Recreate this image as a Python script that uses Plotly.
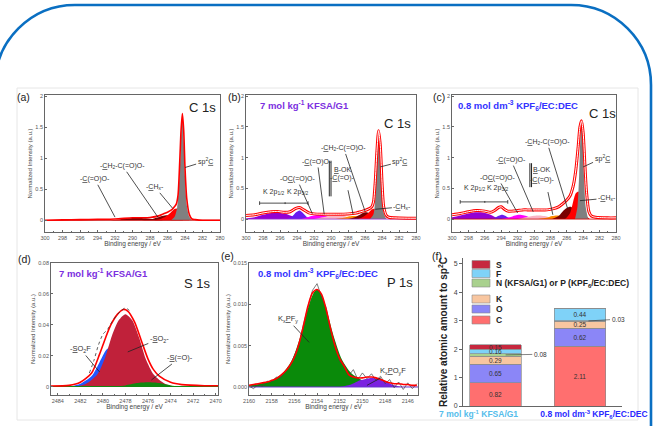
import plotly.graph_objects as go

W, H = 656, 426
FONT = "Liberation Sans, Arial, sans-serif"

# ======================= DATA =======================
# (a) C 1s
a_coo_x = [292.5, 291.5, 290.5, 289.5, 288.5, 287.5, 286.5]
a_coo_y = [0.0, 0.012, 0.03, 0.035, 0.03, 0.015, 0.0]
a_ch2_x = [289.0, 288.0, 287.3, 286.6, 286.0, 285.4, 284.8, 284.2]
a_ch2_y = [0.0, 0.01, 0.04, 0.07, 0.08, 0.06, 0.03, 0.0]
a_chx_x = [287.5, 286.8, 286.2, 285.6, 285.2, 285.0, 284.8, 284.5, 284.2, 283.9, 283.5]
a_chx_y = [0.0, 0.02, 0.06, 0.13, 0.18, 0.19, 0.18, 0.14, 0.08, 0.03, 0.0]
a_sp2_x = [285.6, 285.2, 284.9, 284.6, 284.45, 284.3, 284.15, 284.0, 283.8, 283.5, 283.2]
a_sp2_y = [0.0, 0.05, 0.2, 0.8, 1.3, 1.68, 1.3, 0.7, 0.25, 0.05, 0.0]
a_env_x = [300, 298, 296, 294, 292, 290, 289, 288, 287, 286.5, 286, 285.5, 285.2, 285, 284.8,
           284.6, 284.45, 284.3, 284.15, 284, 283.8, 283.5, 283.2, 282.8, 282, 280]
a_env_y = [0.0, 0.005, 0.01, 0.015, 0.02, 0.04, 0.04, 0.045, 0.07, 0.1, 0.13, 0.17, 0.22, 0.26, 0.4,
           0.95, 1.45, 1.72, 1.45, 0.85, 0.35, 0.09, 0.02, 0.01, 0.0, 0.0]

# (b) C 1s, 7 mol kg-1 KFSA/G1
b_k12_x = [300, 299, 298, 297, 296.4, 295.5, 294.8, 294, 293.5]
b_k12_y = [0.01, 0.03, 0.07, 0.1, 0.105, 0.09, 0.06, 0.02, 0.0]
b_k32_x = [295.2, 294.6, 294.1, 293.7, 293.3, 292.8, 292.3]
b_k32_y = [0.0, 0.04, 0.11, 0.14, 0.1, 0.03, 0.0]
b_oco_x = [293.5, 292.8, 292.0, 291.3, 290.6, 289.8, 289.0]
b_oco_y = [0.0, 0.03, 0.06, 0.07, 0.05, 0.02, 0.0]
b_coo_x = [292.0, 291.0, 290.0, 289.3, 288.5, 287.7, 287.0]
b_coo_y = [0.0, 0.03, 0.055, 0.06, 0.05, 0.02, 0.0]
b_co_x = [289.5, 288.5, 287.8, 287.2, 286.6, 286.0, 285.5]
b_co_y = [0.0, 0.02, 0.045, 0.05, 0.04, 0.015, 0.0]
b_ch2_x = [288.0, 287.2, 286.5, 286.0, 285.5, 285.0, 284.5]
b_ch2_y = [0.0, 0.03, 0.08, 0.11, 0.1, 0.04, 0.0]
b_chx_x = [286.8, 286.2, 285.6, 285.2, 284.9, 284.6, 284.2, 283.8, 283.4]
b_chx_y = [0.0, 0.04, 0.1, 0.16, 0.17, 0.14, 0.07, 0.02, 0.0]
b_sp2_x = [285.4, 285.0, 284.75, 284.55, 284.4, 284.25, 284.05, 283.8, 283.5]
b_sp2_y = [0.0, 0.08, 0.45, 1.1, 1.42, 1.1, 0.45, 0.1, 0.0]
b_env_x = [300, 299, 298, 297, 296.3, 295.5, 294.8, 294.2, 293.7, 293.2, 292.6, 292, 291, 290, 289,
           288, 287.5, 287, 286.5, 286, 285.5, 285.2, 285, 284.8, 284.6, 284.4, 284.2, 284, 283.8,
           283.5, 283.2, 282.5, 281, 280]
b_env_y = [0.06, 0.07, 0.1, 0.12, 0.125, 0.11, 0.12, 0.17, 0.19, 0.15, 0.1, 0.085, 0.08, 0.08, 0.08,
           0.085, 0.09, 0.1, 0.12, 0.14, 0.17, 0.2, 0.28, 0.6, 1.1, 1.44, 1.2, 0.6, 0.2,
           0.06, 0.03, 0.02, 0.015, 0.015]

# (c) C 1s, 0.8 mol dm-3 KPF6/EC:DEC
c_k12_x = [300, 299, 298, 297.2, 296.6, 296, 295.3, 294.7, 294.2]
c_k12_y = [0.03, 0.06, 0.09, 0.11, 0.11, 0.1, 0.07, 0.03, 0.0]
c_k32_x = [295.2, 294.7, 294.2, 293.9, 293.6, 293.2, 292.8]
c_k32_y = [0.0, 0.03, 0.06, 0.07, 0.06, 0.03, 0.0]
c_oco_x = [294.0, 293.0, 292.3, 291.8, 291.2, 290.5, 289.8]
c_oco_y = [0.0, 0.03, 0.06, 0.07, 0.06, 0.03, 0.0]
c_coo_x = [292.0, 291.0, 290.0, 289.4, 288.7, 288.0, 287.3]
c_coo_y = [0.0, 0.03, 0.055, 0.06, 0.05, 0.025, 0.0]
c_co_x = [289.5, 288.5, 287.8, 287.2, 286.6, 286.0, 285.4]
c_co_y = [0.0, 0.02, 0.05, 0.06, 0.05, 0.02, 0.0]
c_ch2_x = [287.8, 287.0, 286.4, 285.9, 285.5, 285.1, 284.7, 284.3]
c_ch2_y = [0.0, 0.05, 0.14, 0.19, 0.2, 0.15, 0.06, 0.0]
c_chx_x = [286.2, 285.6, 285.2, 284.9, 284.6, 284.3, 284.0, 283.6, 283.2]
c_chx_y = [0.0, 0.1, 0.3, 0.42, 0.45, 0.38, 0.22, 0.05, 0.0]
c_sp2_x = [285.0, 284.7, 284.5, 284.35, 284.2, 284.05, 283.9, 283.7, 283.4]
c_sp2_y = [0.0, 0.2, 0.7, 1.3, 1.58, 1.3, 0.7, 0.2, 0.0]
c_env_x = [300, 299, 298, 297, 296, 295.3, 294.8, 294.3, 294, 293.6, 293.2, 292.6, 292, 291.4, 290.8,
           290, 289.2, 288.4, 287.6, 287, 286.5, 286, 285.6, 285.2, 284.9, 284.6, 284.4, 284.2,
           284.0, 283.8, 283.6, 283.3, 283, 282.5, 281, 280]
c_env_y = [0.07, 0.09, 0.12, 0.14, 0.13, 0.11, 0.14, 0.19, 0.2, 0.16, 0.13, 0.13, 0.14, 0.15, 0.15,
           0.15, 0.15, 0.15, 0.17, 0.2, 0.25, 0.31, 0.38, 0.55, 0.8, 1.2, 1.5, 1.6,
           1.4, 0.9, 0.45, 0.12, 0.05, 0.03, 0.02, 0.02]

# (d) S 1s, 7 mol kg-1 KFSA/G1
d_so2f_x = [2483.0, 2482.0, 2481.0, 2480.3, 2479.7, 2479.3, 2478.9, 2478.4, 2477.8, 2477.0]
d_so2f_y = [0.0, 0.002, 0.007, 0.016, 0.024, 0.026, 0.024, 0.015, 0.005, 0.0]
d_so2_x = [2482.5, 2481.5, 2480.5, 2479.8, 2479.2, 2478.6, 2478.0, 2477.4, 2476.8, 2476.2, 2475.5,
           2474.5, 2473.5]
d_so2_y = [0.0, 0.002, 0.008, 0.019, 0.033, 0.043, 0.047, 0.043, 0.032, 0.018, 0.008, 0.002, 0.0]
d_so_x = [2479.0, 2478.0, 2477.0, 2476.0, 2475.0, 2474.0, 2473.0]
d_so_y = [0.0, 0.001, 0.0025, 0.003, 0.0025, 0.001, 0.0]
d_env_x = [2484.6, 2483.0, 2482.0, 2481.0, 2480.3, 2479.8, 2479.3, 2478.7, 2478.2, 2477.8, 2477.2,
           2476.6, 2476.0, 2475.5, 2475.0, 2474.0, 2473.0, 2471.0, 2469.8]
d_env_y = [0.0006, 0.001, 0.003, 0.009, 0.021, 0.031, 0.04, 0.047, 0.05, 0.049, 0.042,
           0.03, 0.018, 0.011, 0.007, 0.003, 0.0015, 0.0008, 0.0008]
d_raw_x = [2481.2, 2480.8, 2480.4, 2480.0, 2479.6, 2479.2, 2478.8, 2478.4, 2478.0, 2477.6]
d_raw_y = [0.009, 0.017, 0.027, 0.034, 0.037, 0.042, 0.046, 0.049, 0.051, 0.049]

# (e) P 1s, 0.8 mol dm-3 KPF6/EC:DEC
e_pf_x = [2160, 2159, 2158, 2157, 2156.2, 2155.5, 2155, 2154.6, 2154.3, 2154, 2153.7, 2153.4, 2153,
          2152.5, 2151.8, 2151, 2150, 2149, 2148]
e_pf_y = [0.0002, 0.0004, 0.0008, 0.0017, 0.0033, 0.006, 0.0085, 0.0104, 0.0114, 0.0118, 0.0114,
          0.0104, 0.0085, 0.006, 0.0033, 0.0017, 0.0008, 0.0004, 0.0002]
e_po_x = [2152.0, 2151.0, 2150.2, 2149.6, 2149.2, 2148.6, 2148.0, 2147.2, 2146.5]
e_po_y = [0.0, 0.0003, 0.0008, 0.001, 0.0011, 0.001, 0.0007, 0.0002, 0.0]
e_x = [2160.0, 2159.6, 2159.2, 2158.8, 2158.4, 2158.0, 2157.6, 2157.2, 2156.8, 2156.4, 2156.0,
       2155.6, 2155.2, 2154.8, 2154.4, 2154.0, 2153.6, 2153.2, 2152.8, 2152.4, 2152.0, 2151.6,
       2151.2, 2150.8, 2150.4, 2150.0, 2149.6, 2149.2, 2148.8, 2148.4, 2148.0, 2147.6, 2147.2,
       2146.8, 2146.4, 2146.0, 2145.6, 2145.2]
e_env_y = [0.0002, 0.0003, 0.0004, 0.0005, 0.0006, 0.0008, 0.0010, 0.0014, 0.0019, 0.0026, 0.0036,
           0.0052, 0.0074, 0.0098, 0.0114, 0.0118, 0.0112, 0.0094, 0.0070, 0.0049, 0.0034, 0.0025,
           0.0015, 0.0012, 0.0011, 0.0011, 0.0012, 0.0012, 0.0011, 0.0009, 0.0007, 0.0005, 0.0004,
           0.0004, 0.0003, 0.0003, 0.0002, 0.0002]
e_raw_y = [0.0001, -0.0002, 0.0003, 0.0001, 0.0007, 0.0006, 0.0012, 0.0011, 0.0020, 0.0025, 0.0038,
           0.0050, 0.0076, 0.0097, 0.0117, 0.0125, 0.0109, 0.0096, 0.0068, 0.0052, 0.0031, 0.0027,
           0.0014, 0.0021, 0.0009, 0.0017, 0.0010, 0.0016, 0.0008, 0.0013, 0.0004, 0.0009, -0.0001,
           0.0006, -0.0003, 0.0005, -0.0002, 0.0004]

# (f) relative atomic amounts
f_samples = ["7 mol kg<sup>-1</sup> KFSA/G1", "0.8 mol dm<sup>-3</sup> KPF<sub>6</sub>/EC:DEC"]
f_C = [0.82, 2.11]
f_O = [0.65, 0.62]
f_K = [0.29, 0.25]
f_NP = [0.08, 0.03]
f_F = [0.16, 0.44]
f_S = [0.15, 0.0]

# ======================= HELPERS =======================
def xd(x0, x1):
    return [x0 / W, x1 / W]

def yd(y0, y1):
    return [1 - y1 / H, 1 - y0 / H]

def px(x):
    return x / W

def py(y):
    return 1 - y / H

fig = go.Figure()

def comp(ax, x, y, color):
    fig.add_trace(go.Scatter(x=x, y=y, mode="lines", fill="tozeroy", fillcolor=color,
                             line=dict(width=0, shape="spline", smoothing=0.7, color=color),
                             xaxis="x" + ax, yaxis="y" + ax, showlegend=False, hoverinfo="skip"))

def line(ax, x, y, color, width, dash=None, spline=True):
    fig.add_trace(go.Scatter(x=x, y=y, mode="lines",
                             line=dict(width=width, color=color, shape="spline" if spline else "linear",
                                       smoothing=0.7, dash=dash),
                             xaxis="x" + ax, yaxis="y" + ax, showlegend=False, hoverinfo="skip"))

PURPLE = "#9400D3"
VIOLET = "#6A1BF0"
MAG = "#FF00FF"
PINK = "#F9B3C4"
ORANGE = "#FF8C00"
DRED = "#7A0000"
RED = "#FF0000"
GRAY = "#808080"

# (a)
comp("", a_coo_x, a_coo_y, DRED)
comp("", a_ch2_x, a_ch2_y, DRED)
comp("", a_chx_x, a_chx_y, RED)
comp("", a_sp2_x, a_sp2_y, GRAY)
line("", [300, 280], [-0.005, 0.0], "#CC0000", 0.8, spline=False)
line("", a_env_x, a_env_y, RED, 1.6)

# (b)
for xx, yy, cc in [(b_k12_x, b_k12_y, PURPLE), (b_k32_x, b_k32_y, VIOLET), (b_oco_x, b_oco_y, MAG),
                   (b_coo_x, b_coo_y, PINK), (b_co_x, b_co_y, ORANGE), (b_ch2_x, b_ch2_y, DRED),
                   (b_chx_x, b_chx_y, RED), (b_sp2_x, b_sp2_y, GRAY)]:
    comp("2", xx, yy, cc)
line("2", [300, 280], [0.0, 0.0], "#9933CC", 0.8, spline=False)
line("2", b_env_x, b_env_y, RED, 3.0)
line("2", b_env_x, b_env_y, "white", 1.0)

# (c)
for xx, yy, cc in [(c_k12_x, c_k12_y, PURPLE), (c_k32_x, c_k32_y, VIOLET), (c_oco_x, c_oco_y, MAG),
                   (c_coo_x, c_coo_y, PINK), (c_co_x, c_co_y, ORANGE), (c_ch2_x, c_ch2_y, DRED),
                   (c_chx_x, c_chx_y, RED), (c_sp2_x, c_sp2_y, GRAY)]:
    comp("3", xx, yy, cc)
line("3", [300, 280], [0.0, 0.0], "#CC0000", 0.8, spline=False)
line("3", c_env_x, c_env_y, RED, 3.0)
line("3", c_env_x, c_env_y, "white", 1.0)

# (d)
comp("4", d_so2f_x, d_so2f_y, "#2255FF")
comp("4", d_so2_x, d_so2_y, "#C0213A")
comp("4", d_so_x, d_so_y, "#118811")
line("4", [2484.6, 2469.8], [0.0003, 0.0003], "#118811", 1.0, spline=False)
line("4", d_env_x, d_env_y, RED, 1.6)
line("4", d_raw_x, d_raw_y, "#333333", 0.8, dash="dot")

# (e)
comp("5", e_pf_x, e_pf_y, "#0A8A0A")
comp("5", e_po_x, e_po_y, "#7B22E0")
line("5", [2160, 2145.1], [0.0, 0.0], "#6633CC", 1.0, spline=False)
line("5", e_x, e_raw_y, "#444444", 0.7, spline=False)
line("5", e_x, e_env_y, RED, 1.6)

# (f) bars
bar_series = [("C", f_C, "#FF6F6F"), ("O", f_O, "#8B86F7"), ("K", f_K, "#F8C6A0"),
              ("NP", f_NP, "#A9D18E"), ("F", f_F, "#7FD2F8"), ("S", f_S, "#C6283E")]
for name, vals, col in bar_series:
    txt = ["" if (v == 0 or name == "NP") else f"{v:.2f}" for v in vals]
    fig.add_trace(go.Bar(x=[0, 1], y=vals, width=0.61, marker=dict(color=col, line=dict(color="#8c8c8c", width=0.7)),
                         text=txt, textposition="inside", insidetextanchor="middle", textangle=0,
                         textfont=dict(size=6.5, color="#333", family=FONT),
                         xaxis="x6", yaxis="y6", showlegend=False, hoverinfo="skip", name=name))

# ======================= AXES =======================
tickf = dict(size=5.5, color="#555", family=FONT)
def spec_axes(xdom, ydom, xr, yr, xt, yt, ytt):
    xa = dict(domain=xdom, range=xr, showline=True, linecolor="#666", linewidth=0.8, mirror=True,
              showgrid=False, zeroline=False, ticks="inside", ticklen=2.5, tickwidth=0.6, tickcolor="#666",
              tickvals=xt, tickfont=tickf, automargin=False,
              minor=dict(ticks="inside", ticklen=1.5, tickwidth=0.5, tickcolor="#666", dtick=1),
              title=dict(text="Binding energy / eV", font=dict(size=6.5, color="#444", family=FONT), standoff=1))
    ya = dict(domain=ydom, range=yr, showline=True, linecolor="#666", linewidth=0.8, mirror=True,
              showgrid=False, zeroline=False, ticks="inside", ticklen=2.5, tickwidth=0.6, tickcolor="#666",
              tickvals=yt, ticktext=ytt, tickfont=tickf, automargin=False,
              title=dict(text="Normalized Intensity (a.u.)", font=dict(size=6, color="#444", family=FONT), standoff=2))
    return xa, ya

ct = [300, 298, 296, 294, 292, 290, 288, 286, 284, 282, 280]
cy = [0, 0.5, 1, 1.5, 2]
cyt = ["0", "0.5", "1", "1.5", "2"]
xa1, ya1 = spec_axes(xd(45, 220), yd(95, 232), [300, 280], [-0.19, 2.02], ct, cy, cyt)
xa2, ya2 = spec_axes(xd(246, 416), yd(95, 232), [300, 280], [-0.21, 2.02], ct, cy, cyt)
xa3, ya3 = spec_axes(xd(452, 616), yd(95, 232), [300, 280], [-0.21, 2.02], ct, cy, cyt)
xa4, ya4 = spec_axes(xd(51, 218), yd(263, 395), [2484.6, 2469.8], [-0.0052, 0.08],
                     [2484, 2482, 2480, 2478, 2476, 2474, 2472, 2470],
                     [0, 0.02, 0.04, 0.06, 0.08], ["0", "0.02", "0.04", "0.06", "0.08"])
xa5, ya5 = spec_axes(xd(249, 418), yd(263, 395), [2160, 2145.1], [-0.00097, 0.015],
                     [2160, 2158, 2156, 2154, 2152, 2150, 2148, 2146],
                     [0, 0.005, 0.01, 0.015], ["0.000", "0.005", "0.010", "0.015"])

for k, (xa, ya) in enumerate([(xa1, ya1), (xa2, ya2), (xa3, ya3), (xa4, ya4), (xa5, ya5)], start=1):
    s = "" if k == 1 else str(k)
    xa["anchor"] = "y" + s
    ya["anchor"] = "x" + s
    fig.layout["xaxis" + s] = xa
    fig.layout["yaxis" + s] = ya

fig.layout["xaxis6"] = dict(domain=xd(463, 622), range=[-0.3846, 1.497], anchor="y6", showline=True,
                            linecolor="#666", linewidth=0.8, showgrid=False, zeroline=False, ticks="",
                            tickvals=[-0.2, 1.165], automargin=False,
                            ticktext=[f"<span style='color:#55BDEB'><b>{f_samples[0]}</b></span>",
                                      f"<span style='color:#2A2AFF'><b>{f_samples[1]}</b></span>"],
                            tickfont=dict(size=8.5, family=FONT))
fig.layout["yaxis6"] = dict(domain=yd(258, 406), range=[0, 5.21], anchor="x6", showline=True,
                            linecolor="#666", linewidth=0.8, showgrid=False, zeroline=False,
                            ticks="outside", ticklen=3, tickwidth=0.6, tickcolor="#666", automargin=False,
                            tickvals=[0, 1, 2, 3, 4, 5], tickfont=dict(size=7, color="#444", family=FONT),
                            title=dict(text="<b>Relative atomic amount to sp<sup>2</sup>C</b>",
                                       font=dict(size=10, color="#222", family=FONT), standoff=4))

# ======================= ANNOTATIONS =======================
ann = []
LS = 7.0
def t(text, x, y, size=LS, ref="", color="#333", anchor="center"):
    ann.append(dict(text=text, x=x, y=y, xref="x" + ref, yref="y" + ref, showarrow=False,
                    font=dict(size=size, color=color, family=FONT), xanchor=anchor))

def arr(text, tx, ty, x, y, ref="", size=LS):
    ann.append(dict(text=text, x=x, y=y, ax=tx, ay=ty, xref="x" + ref, yref="y" + ref,
                    axref="x" + ref, ayref="y" + ref, showarrow=True, arrowhead=0, arrowwidth=0.8,
                    arrowcolor="#222", font=dict(size=size, color="#333", family=FONT)))

def ptext(text, x, y, size, color="#222", anchor="center", bold=False):
    if bold:
        text = "<b>" + text + "</b>"
    ann.append(dict(text=text, x=px(x), y=py(y), xref="paper", yref="paper", showarrow=False,
                    xanchor=anchor, yanchor="middle", font=dict(size=size, color=color, family=FONT)))

# panel letters
ptext("(a)", 23, 97, 10.5)
ptext("(b)", 234, 97, 10.5)
ptext("(c)", 439, 97, 10.5)
ptext("(d)", 24, 259, 10.5)
ptext("(e)", 228, 256, 10.5)
ptext("(f)", 437, 256, 10.5)

KF = "7 mol kg<sup>-1</sup> KFSA/G1"
KP = "0.8 mol dm<sup>-3</sup> KPF<sub>6</sub>/EC:DEC"
ptext(KF, 258, 105, 9.5, color="#7B2FE0", anchor="left", bold=True)
ptext(KP, 456, 105, 9.5, color="#3333FF", anchor="left", bold=True)
ptext(KF, 57, 273, 9.5, color="#7B2FE0", anchor="left", bold=True)
ptext(KP, 256, 273, 9.5, color="#3333FF", anchor="left", bold=True)

# (a)
t("C 1s", 282.0, 1.82, size=13, color="#222")
arr("-<u>C</u>(=O)O-", 294.3, 0.66, 292.0, 0.05)
arr("-<u>C</u>H<sub>2</sub>-C(=O)O-", 291.1, 0.87, 287.1, 0.05)
arr("-<u>C</u>H<sub>x</sub>-", 287.4, 0.53, 285.4, 0.19)
arr("sp<sup>2</sup><u>C</u>", 281.7, 0.95, 284.0, 0.85)

# (b)
t("C 1s", 282.2, 1.56, size=13, color="#222", ref="2")
t("K 2p<sub>1/2</sub>", 296.8, 0.44, ref="2")
t("K 2p<sub>3/2</sub>", 294.0, 0.44, ref="2")
arr("-O<u>C</u>(=O)O-", 294.0, 0.65, 292.2, 0.09, ref="2")
arr("-<u>C</u>(=O)O-", 291.6, 0.93, 290.8, 0.08, ref="2")
t("<u>B</u>-OK", 288.7, 0.8, ref="2")
t("-<u>C</u>(=O)-", 288.6, 0.67, ref="2")
arr("-<u>C</u>H<sub>2</sub>-C(=O)O-", 288.5, 1.15, 286.0, 0.13, ref="2")
arr("sp<sup>2</sup><u>C</u>", 281.9, 0.93, 284.2, 0.85, ref="2")
arr("-<u>C</u>H<sub>x</sub>-", 281.6, 0.2, 284.8, 0.16, ref="2")

# (c)
t("C 1s", 281.7, 1.72, size=13, color="#222", ref="3")
t("K 2p<sub>1/2</sub>", 297.2, 0.5, ref="3")
t("K 2p<sub>3/2</sub>", 294.4, 0.5, ref="3")
arr("-O<u>C</u>(=O)O-", 294.4, 0.67, 292.0, 0.1, ref="3")
arr("-<u>C</u>(=O)O-", 292.8, 0.96, 290.1, 0.12, ref="3")
t("<u>B</u>-OK", 289.1, 0.8, ref="3")
t("-<u>C</u>(=O)-", 289.0, 0.63, ref="3")
arr("-<u>C</u>H<sub>2</sub>-C(=O)O-", 288.4, 1.25, 285.9, 0.17, ref="3")
arr("sp<sup>2</sup><u>C</u>", 281.7, 0.99, 284.0, 0.85, ref="3")
arr("-<u>C</u>H<sub>x</sub>-", 281.1, 0.34, 284.4, 0.3, ref="3")

# (d)
t("S 1s", 2471.6, 0.067, size=13, color="#222", ref="4")
arr("-<u>S</u>O<sub>2</sub>F", 2482.0, 0.0245, 2480.3, 0.0097, ref="4", size=7.5)
arr("-<u>S</u>O<sub>2</sub>-", 2475.0, 0.031, 2477.8, 0.0226, ref="4", size=7.5)
arr("-<u>S</u>(=O)-", 2473.2, 0.0187, 2475.7, 0.0045, ref="4", size=7.5)

# (e)
t("P 1s", 2146.7, 0.0126, size=13, color="#222", ref="5")
arr("K<sub>x</sub><u>P</u>F<sub>y</sub>", 2156.6, 0.0082, 2154.7, 0.0054, ref="5", size=7.5)
arr("K<sub>x</sub><u>P</u>O<sub>y</sub>F", 2147.3, 0.0019, 2149.6, 0.0002, ref="5", size=7.5)

# (f) small value call-outs, positioned from data
y_np1 = f_C[0] + f_O[0] + f_K[0] + f_NP[0] / 2
y_np2 = f_C[1] + f_O[1] + f_K[1] + f_NP[1] / 2
ann.append(dict(text=f"{f_NP[0]:.2f}", x=0.12, y=y_np1, ax=0.53, ay=y_np1 + 0.02, xref="x6", yref="y6",
                axref="x6", ayref="y6", showarrow=True, arrowhead=0, arrowwidth=0.6, arrowcolor="#333",
                font=dict(size=6.5, color="#333", family=FONT)))
ann.append(dict(text=f"{f_NP[1]:.2f}", x=1.1, y=y_np2, ax=1.45, ay=y_np2 + 0.06, xref="x6", yref="y6",
                axref="x6", ayref="y6", showarrow=True, arrowhead=0, arrowwidth=0.6, arrowcolor="#333",
                font=dict(size=6.5, color="#333", family=FONT)))

# legend (f)
shapes = []
leg = [("S", "#C6283E", 264.5), ("F", "#7FD2F8", 273.5),
       ("N (KFSA/G1) or P (KPF<sub>6</sub>/EC:DEC)", "#A9D18E", 283), ("K", "#F8C6A0", 299),
       ("O", "#8B86F7", 309), ("C", "#FF6F6F", 320)]
for lab_, col, yy in leg:
    shapes.append(dict(type="rect", xref="paper", yref="paper", x0=px(472), x1=px(490),
                       y0=py(yy + 4), y1=py(yy - 4), fillcolor=col, line=dict(color="#8c8c8c", width=0.6)))
    ptext(lab_, 494, yy, 8.5, color="#222", anchor="left", bold=True)

# K 2p brackets, separators and leader lines for B-OK / -C(=O)-
def seg(ref, x0, y0, x1, y1, w=0.8):
    shapes.append(dict(type="line", xref="x" + ref, yref="y" + ref, x0=x0, x1=x1, y0=y0, y1=y1,
                       line=dict(color="#222", width=w)))

for ref, yb, xa_, xb_, xm, vx, vy0, vy1, l0, l1 in [
        ("2", 0.26, 298.4, 292.7, 295.4, 290.2, 0.37, 0.95, (288.0, 0.47), (287.4, 0.08)),
        ("3", 0.28, 299.0, 293.2, 296.0, 290.5, 0.52, 0.91, (288.3, 0.44), (287.7, 0.07))]:
    seg(ref, xa_, yb, xb_, yb)
    seg(ref, xa_, yb - 0.03, xa_, yb + 0.03)
    seg(ref, xb_, yb - 0.03, xb_, yb + 0.03)
    seg(ref, xm, yb - 0.015, xm, yb + 0.015)
    seg(ref, vx, vy0, vx, vy1, 1.0)
    seg(ref, vx - 0.2, vy0, vx - 0.2, vy1, 1.0)
    seg(ref, l0[0], l0[1], l1[0], l1[1])

# faint figure border and rounded blue frame
shapes.append(dict(type="rect", xref="paper", yref="paper", x0=px(17), x1=px(638), y0=py(420), y1=py(88),
                   line=dict(color="#e6e6e6", width=1), layer="below"))
L, R, T, B, r = -5, 651, 5, 470, 80
k = 0.5523 * r
def P(x, y):
    return f"{px(x):.5f},{py(y):.5f}"
path = (f"M {P(L, B)} L {P(L, T + r)} C {P(L, T + r - k)} {P(L + r - k, T)} {P(L + r, T)} "
        f"L {P(R - r, T)} C {P(R - r + k, T)} {P(R, T + r - k)} {P(R, T + r)} L {P(R, B)}")
shapes.append(dict(type="path", xref="paper", yref="paper", path=path, line=dict(color="#0A6FC2", width=2.6)))

fig.update_layout(width=W, height=H, margin=dict(l=0, r=0, t=0, b=0, autoexpand=False),
                  paper_bgcolor="white", plot_bgcolor="white", barmode="stack", font=dict(family=FONT),
                  annotations=ann, shapes=shapes,
                  uniformtext=dict(minsize=6.5, mode="show"))

fig.write_html("out.html")
